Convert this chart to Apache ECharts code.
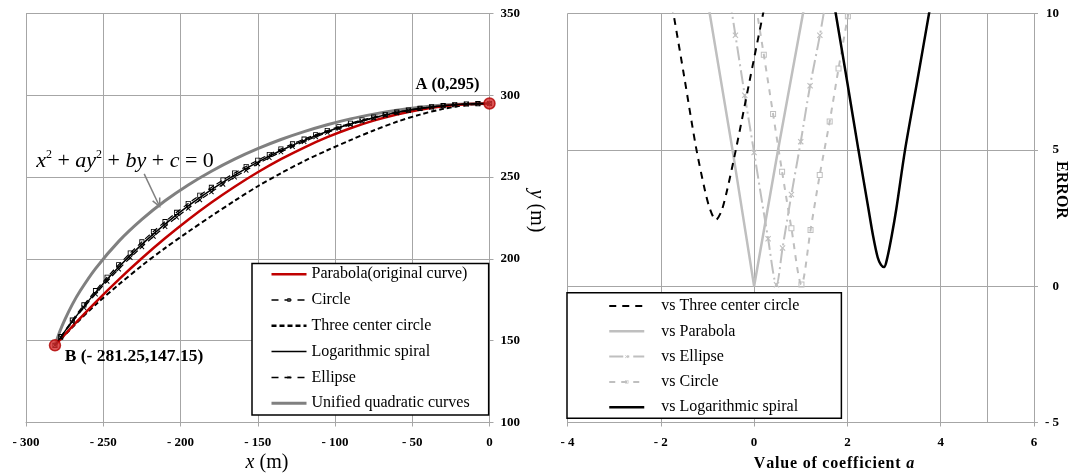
<!DOCTYPE html>
<html>
<head>
<meta charset="utf-8">
<script src="https://cdn.jsdelivr.net/npm/echarts@6/dist/echarts.min.js"></script>
<style>
  html, body { margin: 0; padding: 0; background: #fff; }
  #chart { width: 1077px; height: 475px; }
</style>
</head>
<body>
<div id="chart"></div>
<script>
// ---------- left chart: arch axis, x (m) / y (m) ----------
var xFine = [-281.25, -277.5, -270, -262.5, -255, -247.5, -240, -232.5, -225, -217.5, -210, -202.5, -195, -187.5, -180, -172.5, -165, -157.5, -150, -142.5, -135, -127.5, -120, -112.5, -105, -97.5, -90, -82.5, -75, -67.5, -60, -52.5, -45, -37.5, -30, -22.5, -15, -7.5, 0];
var circleY = [147.15, 152.48, 162.55, 171.90, 180.61, 188.77, 196.42, 203.61, 210.38, 216.76, 222.78, 228.46, 233.84, 238.91, 243.70, 248.22, 252.48, 256.50, 260.29, 263.84, 267.18, 270.30, 273.22, 275.93, 278.45, 280.78, 282.92, 284.88, 286.66, 288.26, 289.69, 290.94, 292.02, 292.93, 293.68, 294.26, 294.67, 294.92, 295.0];
var ellipseY = [147.15, 152.06, 161.41, 170.19, 178.46, 186.29, 193.70, 200.71, 207.38, 213.71, 219.72, 225.43, 230.87, 236.02, 240.92, 245.57, 249.97, 254.14, 258.09, 261.80, 265.31, 268.60, 271.68, 274.55, 277.23, 279.72, 282.00, 284.10, 286.01, 287.73, 289.26, 290.61, 291.78, 292.76, 293.57, 294.20, 294.64, 294.91, 295.0];

var xCoarse = [-281.25, -270, -255, -240, -225, -210, -195, -180, -165, -150, -135, -120, -105, -90, -75, -60, -45, -30, -15, 0];
var parabolaY = [147.15, 158.74, 173.46, 187.34, 200.38, 212.57, 223.93, 234.44, 244.11, 252.95, 260.94, 268.08, 274.39, 279.86, 284.49, 288.27, 291.21, 293.32, 294.58, 295.0];
var threeCenterY = [147.15, 158.2, 172.0, 184.3, 195.9, 206.6, 216.6, 226.2, 235.5, 244.4, 252.4, 259.8, 266.4, 272.6, 278.5, 283.8, 288.2, 291.7, 294.1, 295.0];
var spiralY = [147.15, 161.98, 179.54, 195.06, 208.88, 221.25, 232.35, 242.31, 251.22, 259.19, 266.24, 272.45, 277.84, 282.46, 286.33, 289.48, 291.90, 293.63, 294.66, 295.0];

var unifiedX = [-281.25, -278, -275, -270, -265, -255, -240, -225, -210, -195, -180, -165, -150, -135, -120, -105, -90, -75, -60, -45, -30, -15, 0];
var unifiedY = [147.15, 155.9, 162.6, 172.2, 180.4, 194.1, 210.7, 224.1, 235.5, 245.2, 253.6, 261.0, 267.4, 273.0, 277.8, 282.0, 285.6, 288.5, 290.9, 292.7, 294.0, 294.7, 295.0];

var pointA = [0, 295];
var pointB = [-281.25, 147.15];
var arrowFrom = [-223.5, 252];
var arrowTo = [-213.5, 232];

// ---------- right chart: ERROR vs value of coefficient a ----------
var tcA = [-1.76, -1.713, -1.5, -1.248, -1.056, -0.95, -0.82, -0.7, -0.578, -0.377, -0.1, 0.193, 0.25];
var tcErr = [10.3, 9.84, 7.7, 5.12, 3.53, 2.85, 2.43, 2.75, 3.53, 5.12, 7.5, 10.0, 10.5];
var parA = [-1.0, -0.463, 0, 0.514, 1.08];
var parErr = [10.5, 5.0, 0.0, 5.0, 10.3];
var ellA = [-0.6, -0.4, -0.2, 0, 0.3, 0.48, 0.61, 0.8, 1.0, 1.2, 1.41, 1.6];
var ellErr = [11.4, 9.2, 7.0, 4.9, 1.74, 0.05, 1.4, 3.36, 5.3, 7.35, 9.2, 11.1];
var cirA = [0.0, 0.208, 0.407, 0.6, 0.8, 1.015, 1.21, 1.407, 1.62, 1.81, 2.01, 2.07];
var cirErr = [10.7, 8.49, 6.31, 4.2, 2.12, 0.06, 2.06, 4.08, 6.04, 7.98, 9.9, 10.5];
var spA = [1.70, 1.75, 2.0, 2.236, 2.45, 2.55, 2.65, 2.72, 2.786, 2.85, 2.95, 3.05, 3.236, 3.5, 3.75, 3.8];
var spErr = [10.5, 10.0, 7.45, 5.0, 2.85, 1.85, 1.05, 0.78, 0.70, 1.0, 1.85, 2.85, 5.0, 7.55, 10.0, 10.5];

var serif = '"Liberation Serif", "Times New Roman", serif';
var gridColor = '#a6a6a6';
var lightGray = '#bfbfbf';

// symbols padded inside a 20x20 box so the legend draws them small
var symNone = 'path://M0,0M1,1';
var symSquare = 'path://M0,0M20,20M7,7L13,7L13,13L7,13ZM8,8L8,12L12,12L12,8Z';
var symCross = 'path://M0,0M20,20M7,7.8L7.8,7L10,9.2L12.2,7L13,7.8L10.8,10L13,12.2L12.2,13L10,10.8L7.8,13L7,12.2L9.2,10Z';

function pairs(xs, ys) {
  return xs.map(function (x, i) { return [x, ys[i]]; });
}
function neg(v) {
  return v < 0 ? '- ' + Math.abs(v) : String(v);
}
// bold title with a little letter spacing
function spaced(str, style) {
  return str.split('').map(function (c) { return '{' + style + '|' + c + '}'; }).join('');
}

function xAxisOf(grid, min, max, step) {
  return {
    gridIndex: grid, type: 'value', min: min, max: max, interval: step,
    axisLine: { show: true, onZero: false, lineStyle: { color: gridColor, width: 1 } },
    axisTick: { show: true, length: 4, lineStyle: { color: gridColor } },
    axisLabel: {
      margin: 14, formatter: neg, fontFamily: serif, fontWeight: 'bold', fontSize: 13, color: '#000',
      showMinLabel: true, showMaxLabel: true, hideOverlap: false
    },
    splitLine: { show: true, lineStyle: { color: gridColor, width: 1 } }
  };
}
function yAxisOf(grid, min, max, step, label) {
  return {
    gridIndex: grid, type: 'value', position: 'right', min: min, max: max, interval: step,
    axisLine: { show: true, onZero: false, lineStyle: { color: gridColor, width: 1 } },
    axisTick: { show: true, length: 4, lineStyle: { color: gridColor } },
    axisLabel: Object.assign({
      formatter: neg, fontFamily: serif, fontWeight: 'bold', fontSize: 13, color: '#000',
      showMinLabel: true, showMaxLabel: true, hideOverlap: false
    }, label),
    splitLine: { show: true, lineStyle: { color: gridColor, width: 1 } }
  };
}

function lineSeries(name, grid, data, color, width, type, symbol, symbolSize, z) {
  return {
    name: name, type: 'line', xAxisIndex: grid, yAxisIndex: grid,
    data: data, smooth: 0.3, clip: true, z: z || 2,
    symbol: symbol || symNone, symbolSize: symbolSize || 1,
    showSymbol: !!symbol,
    itemStyle: { color: color },
    lineStyle: { color: color, width: width, type: type || 'solid' },
    emphasis: { disabled: true }, silent: true
  };
}

var chart = echarts.init(document.getElementById('chart'));

var option = {
  animation: false,
  backgroundColor: '#fff',
  grid: [
    { left: 26, top: 13.5, width: 463.5, height: 409, outerBoundsMode: 'none', containLabel: false },
    { left: 567.5, top: 13.5, width: 466.5, height: 409, outerBoundsMode: 'none', containLabel: false }
  ],
  xAxis: [xAxisOf(0, -300, 0, 50), xAxisOf(1, -4, 6, 2)],
  yAxis: [
    yAxisOf(0, 100, 350, 50, { margin: 11 }),
    yAxisOf(1, -5, 10, 5, { margin: 25, align: 'right' })
  ],
  legend: [
    {
      orient: 'vertical', left: 252, top: 263.4,
      padding: [2.8, 19, 3.8, 18],
      itemWidth: 35, itemHeight: 14, itemGap: 9.8,
      borderColor: '#000', borderWidth: 1.5, backgroundColor: '#fff',
      selectedMode: false,
      textStyle: { fontFamily: serif, fontSize: 16, color: '#000' },
      data: [
        { name: 'Parabola(original curve)', lineStyle: { color: '#c00000', width: 2.5, type: 'solid' } },
        { name: 'Circle', lineStyle: { color: '#000', width: 1.5, type: [7, 6] } },
        { name: 'Three center circle', lineStyle: { color: '#000', width: 2.5, type: [5, 3] } },
        { name: 'Logarithmic spiral', lineStyle: { color: '#000', width: 1.5, type: 'solid' } },
        { name: 'Ellipse', lineStyle: { color: '#000', width: 1.5, type: [7, 6] } },
        { name: 'Unified quadratic curves', lineStyle: { color: '#808080', width: 3, type: 'solid' } }
      ]
    },
    {
      orient: 'vertical', left: 567, top: 292.7,
      padding: [5.3, 42, 3.1, 41],
      itemWidth: 35, itemHeight: 14, itemGap: 9.3,
      borderColor: '#000', borderWidth: 1.5, backgroundColor: '#fff',
      selectedMode: false,
      textStyle: { fontFamily: serif, fontSize: 16, color: '#000', padding: [0, 0, 0, 12] },
      data: [
        { name: 'vs Three center circle', lineStyle: { color: '#000', width: 2, type: [7, 6] } },
        { name: 'vs Parabola', lineStyle: { color: lightGray, width: 2.5, type: 'solid' } },
        { name: 'vs Ellipse', lineStyle: { color: lightGray, width: 2, type: [14, 4, 2, 4] } },
        { name: 'vs Circle', lineStyle: { color: lightGray, width: 2, type: [6, 6] } },
        { name: 'vs Logarithmic spiral', lineStyle: { color: '#000', width: 2.5, type: 'solid' } }
      ]
    }
  ],
  series: [
    lineSeries('Unified quadratic curves', 0, pairs(unifiedX, unifiedY), '#808080', 3, 'solid', null, null, 1),
    lineSeries('Three center circle', 0, pairs(xCoarse, threeCenterY), '#000', 2, [5, 3]),
    lineSeries('Parabola(original curve)', 0, pairs(xCoarse, parabolaY), '#c00000', 2.5, 'solid', null, null, 3),
    lineSeries('Ellipse', 0, pairs(xFine, ellipseY), '#000', 1.2, [6, 4], symCross, 17, 3),
    lineSeries('Logarithmic spiral', 0, pairs(xCoarse, spiralY), '#000', 1.5, 'solid', null, null, 3),
    lineSeries('Circle', 0, pairs(xFine, circleY), '#000', 1.2, [6, 4], symSquare, 17, 4),
    {
      name: 'ends', type: 'scatter', xAxisIndex: 0, yAxisIndex: 0,
      data: [pointA, pointB], symbolSize: 11, z: 6, silent: true,
      itemStyle: { color: '#d42a2a', borderColor: '#b00000', borderWidth: 1.5 }
    },

    Object.assign(lineSeries('vs Parabola', 1, pairs(parA, parErr), lightGray, 2.5, 'solid'), {
      smooth: false,
      markLine: {
        silent: true, symbol: 'none', label: { show: false },
        lineStyle: { color: gridColor, width: 1, type: 'solid' },
        data: [{ xAxis: 5 }]
      }
    }),
    lineSeries('vs Ellipse', 1, pairs(ellA, ellErr), lightGray, 2, [14, 4, 2, 4], symCross, 20, 3),
    lineSeries('vs Circle', 1, pairs(cirA, cirErr), lightGray, 2, [6, 6], symSquare, 20, 3),
    lineSeries('vs Three center circle', 1, pairs(tcA, tcErr), '#000', 2, [7, 6], null, null, 4),
    lineSeries('vs Logarithmic spiral', 1, pairs(spA, spErr), '#000', 2.5, 'solid', null, null, 4)
  ]
};

chart.setOption(option);

// annotations, placed from data coordinates
var pA = chart.convertToPixel({ gridIndex: 0 }, pointA);
var pB = chart.convertToPixel({ gridIndex: 0 }, pointB);
var a0 = chart.convertToPixel({ gridIndex: 0 }, arrowFrom);
var a1 = chart.convertToPixel({ gridIndex: 0 }, arrowTo);
var ang = Math.atan2(a1[1] - a0[1], a1[0] - a0[0]);
var head = 9, spread = 0.45;

chart.setOption({
  graphic: [
    {
      type: 'text', x: pA[0] - 42, y: pA[1] - 19,
      style: { text: 'A (0,295)', font: 'bold 16.5px ' + serif, fill: '#000', align: 'center', verticalAlign: 'middle' }
    },
    {
      type: 'text', x: pB[0] + 79, y: pB[1] + 11,
      style: { text: 'B (- 281.25,147.15)', font: 'bold 17.5px ' + serif, fill: '#000', align: 'center', verticalAlign: 'middle' }
    },
    {
      type: 'text', x: 125, y: 161,
      style: {
        text: '{i|x}{s|2}{o| + }{i|ay}{s|2}{o| + }{i|by}{o| + }{i|c}{o| = 0}',
        align: 'center', verticalAlign: 'middle', fill: '#000',
        rich: {
          i: { fontFamily: serif, fontStyle: 'italic', fontSize: 22 },
          o: { fontFamily: serif, fontSize: 22 },
          s: { fontFamily: serif, fontSize: 12, padding: [0, 0, 12, 0] }
        }
      }
    },
    {
      type: 'line', shape: { x1: a0[0], y1: a0[1], x2: a1[0], y2: a1[1] },
      style: { stroke: '#808080', lineWidth: 1.5 }
    },
    {
      type: 'polyline',
      shape: { points: [
        [a1[0] - head * Math.cos(ang - spread), a1[1] - head * Math.sin(ang - spread)],
        [a1[0], a1[1]],
        [a1[0] - head * Math.cos(ang + spread), a1[1] - head * Math.sin(ang + spread)]
      ] },
      style: { stroke: '#808080', lineWidth: 1.5, fill: null }
    },
    {
      type: 'text', x: 267, y: 463,
      style: {
        text: '{i|x} (m)', align: 'center', verticalAlign: 'middle', fill: '#000',
        rich: { i: { fontFamily: serif, fontStyle: 'italic', fontSize: 20 } },
        font: '20px ' + serif
      }
    },
    {
      type: 'text', x: 536, y: 211, rotation: -Math.PI / 2,
      style: {
        text: '{i|y} (m)', align: 'center', verticalAlign: 'middle', fill: '#000',
        rich: { i: { fontFamily: serif, fontStyle: 'italic', fontSize: 20 } },
        font: '20px ' + serif
      }
    },
    {
      type: 'text', x: 834, y: 464,
      style: {
        text: spaced('Value of coefficient ', 't') + '{i|a}', align: 'center', verticalAlign: 'middle', fill: '#000',
        rich: {
          t: { fontFamily: serif, fontWeight: 'bold', fontSize: 16, padding: [0, 0.8, 0, 0] },
          i: { fontFamily: serif, fontWeight: 'bold', fontStyle: 'italic', fontSize: 16 }
        }
      }
    },
    {
      type: 'text', x: 1061, y: 190, rotation: -Math.PI / 2,
      style: { text: 'ERROR', font: 'bold 16px ' + serif, fill: '#000', align: 'center', verticalAlign: 'middle' }
    }
  ]
});
</script>
</body>
</html>
